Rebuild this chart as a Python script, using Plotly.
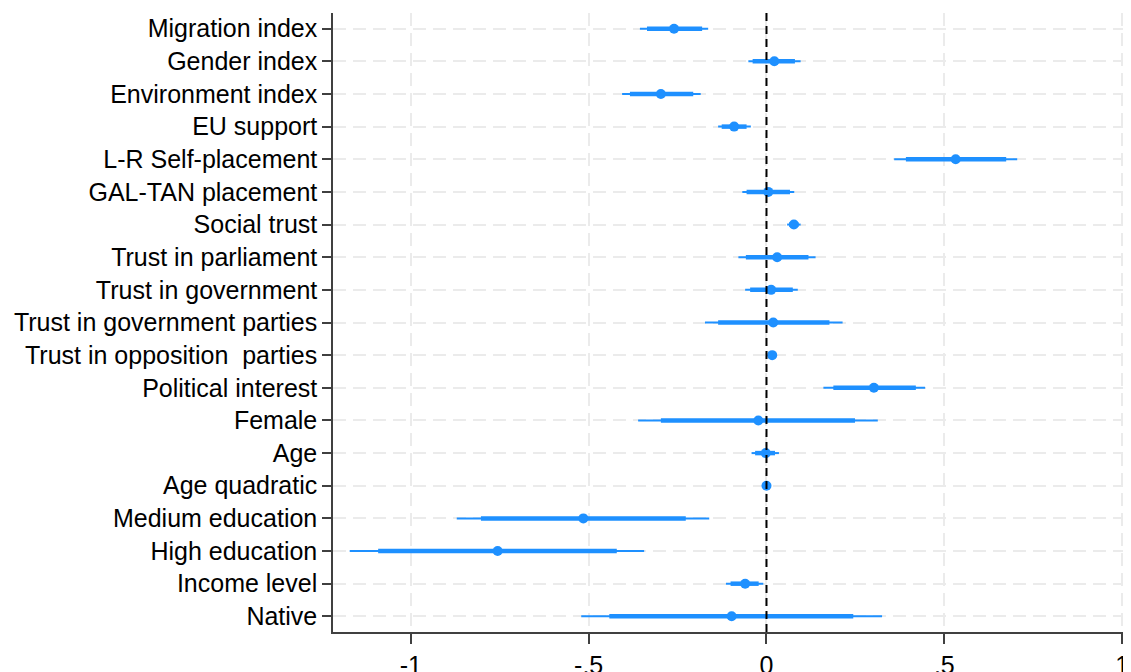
import plotly.graph_objects as go

# Categories, top to bottom
categories = [
    "Migration index", "Gender index", "Environment index", "EU support",
    "L-R Self-placement", "GAL-TAN placement", "Social trust",
    "Trust in parliament", "Trust in government", "Trust in government parties",
    "Trust in opposition  parties", "Political interest", "Female", "Age",
    "Age quadratic", "Medium education", "High education", "Income level", "Native",
]

# Point estimates
estimates = [-0.260, 0.022, -0.297, -0.091, 0.532, 0.005, 0.077, 0.030, 0.013, 0.019,
             0.016, 0.302, -0.023, -0.002, 0.000, -0.515, -0.756, -0.060, -0.098]

# Inner (thick) interval
inner_lo = [-0.336, -0.039, -0.384, -0.126, 0.392, -0.056, 0.064, -0.058, -0.046, -0.136,
            0.010, 0.188, -0.297, -0.032, -0.002, -0.803, -1.092, -0.101, -0.442]
inner_hi = [-0.181, 0.080, -0.206, -0.056, 0.674, 0.066, 0.090, 0.118, 0.074, 0.177,
            0.023, 0.420, 0.249, 0.024, 0.002, -0.227, -0.421, -0.022, 0.244]

# Outer (thin) interval
outer_lo = [-0.356, -0.051, -0.406, -0.136, 0.359, -0.068, 0.058, -0.079, -0.060, -0.173,
            0.008, 0.160, -0.361, -0.042, -0.003, -0.871, -1.172, -0.114, -0.521]
outer_hi = [-0.164, 0.096, -0.185, -0.044, 0.705, 0.078, 0.096, 0.138, 0.088, 0.214,
            0.025, 0.446, 0.313, 0.035, 0.003, -0.161, -0.344, -0.009, 0.325]

x_tickvals = [-1, -0.5, 0, 0.5, 1]
x_ticktext = ["-1", "-.5", "0", ".5", "1"]

n = len(categories)
ypos = [n - i for i in range(n)]

BLUE = "rgb(30,144,255)"
FONT = "Liberation Sans, Arial, sans-serif"


def segments(lo, hi):
    xs, ys = [], []
    for a, b, y in zip(lo, hi, ypos):
        xs += [a, b, None]
        ys += [y, y, None]
    return xs, ys


fig = go.Figure()
ox, oy = segments(outer_lo, outer_hi)
fig.add_trace(go.Scatter(x=ox, y=oy, mode="lines",
                         line=dict(color=BLUE, width=2), hoverinfo="skip"))
ix, iy = segments(inner_lo, inner_hi)
fig.add_trace(go.Scatter(x=ix, y=iy, mode="lines",
                         line=dict(color=BLUE, width=4.5), hoverinfo="skip"))
fig.add_trace(go.Scatter(x=estimates, y=ypos, mode="markers",
                         marker=dict(color=BLUE, size=10, line=dict(width=0))))

fig.add_shape(type="line", xref="x", yref="paper", x0=0, x1=0, y0=0, y1=1,
              line=dict(color="black", width=2, dash="8px,5px"), layer="above")

fig.update_layout(
    width=1123, height=664,
    margin=dict(l=325, r=0, t=5, b=40),
    paper_bgcolor="white", plot_bgcolor="white",
    showlegend=False,
    font=dict(family=FONT, size=25, color="black"),
)
fig.update_xaxes(
    range=[-1.219, 1.025], tickvals=x_tickvals, ticktext=x_ticktext,
    showline=True, linecolor="#404040", linewidth=1.5,
    ticks="outside", ticklen=10, tickcolor="#404040", tickwidth=1.5,
    showgrid=True, gridcolor="#ebebeb", gridwidth=2, griddash="13px,7px",
    zeroline=False, tickfont=dict(size=25, color="black"), automargin=False,
)
fig.update_yaxes(
    range=[0.52, 19.48], tickvals=ypos, ticktext=categories,
    showline=True, linecolor="#404040", linewidth=1.5,
    ticks="outside", ticklen=9, tickcolor="#404040", tickwidth=1.5,
    showgrid=True, gridcolor="#ebebeb", gridwidth=2, griddash="13px,7px",
    zeroline=False, tickfont=dict(size=25, color="black"), automargin=False,
)

fig.write_html("out.html")
